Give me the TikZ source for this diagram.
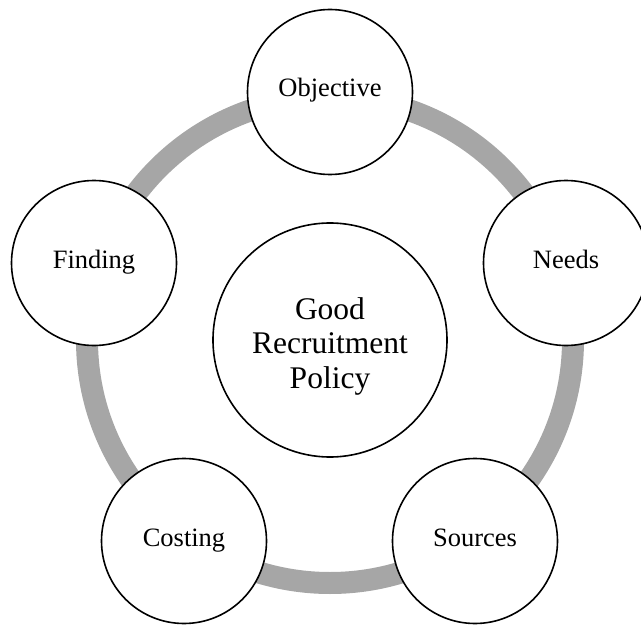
\documentclass[tikz,border=0pt]{standalone}
\usepackage{fontspec}
\setmainfont{Liberation Serif}
\definecolor{ringgray}{RGB}{166,166,166}
\tikzset{
  petal/.style={circle, draw=black, line width=1.6pt, fill=white, minimum size=165pt, inner sep=0pt,
    font=\fontsize{26.5}{30}\selectfont, text height=1.2em, text depth=0.2em},
  hub/.style={circle, draw=black, line width=1.6pt, fill=white, minimum size=234pt, inner sep=0pt,
    font=\fontsize{31.5}{34.5}\selectfont, align=center},
  ring/.style={draw=ringgray, line width=22pt}
}
\begin{document}
\begin{tikzpicture}[x=1pt,y=-1pt]
\useasboundingbox (0,0) rectangle (641,626);
\begin{scope}
\clip (0,0) rectangle (641,626);
\coordinate (o) at (330,340);
\draw[ring] (o) circle (243);
\node[hub] (hub) at (o) {\rule{0pt}{1.1em}Good\\Recruitment\\Policy};
\node[petal] (obj) at (330,92) {Objective};
\node[petal] (needs) at (566,263) {Needs};
\node[petal] (sources) at (475,541) {Sources};
\node[petal] (costing) at (184,541) {Costing};
\node[petal] (finding) at (94,263) {Finding};
\end{scope}
\end{tikzpicture}
\end{document}
